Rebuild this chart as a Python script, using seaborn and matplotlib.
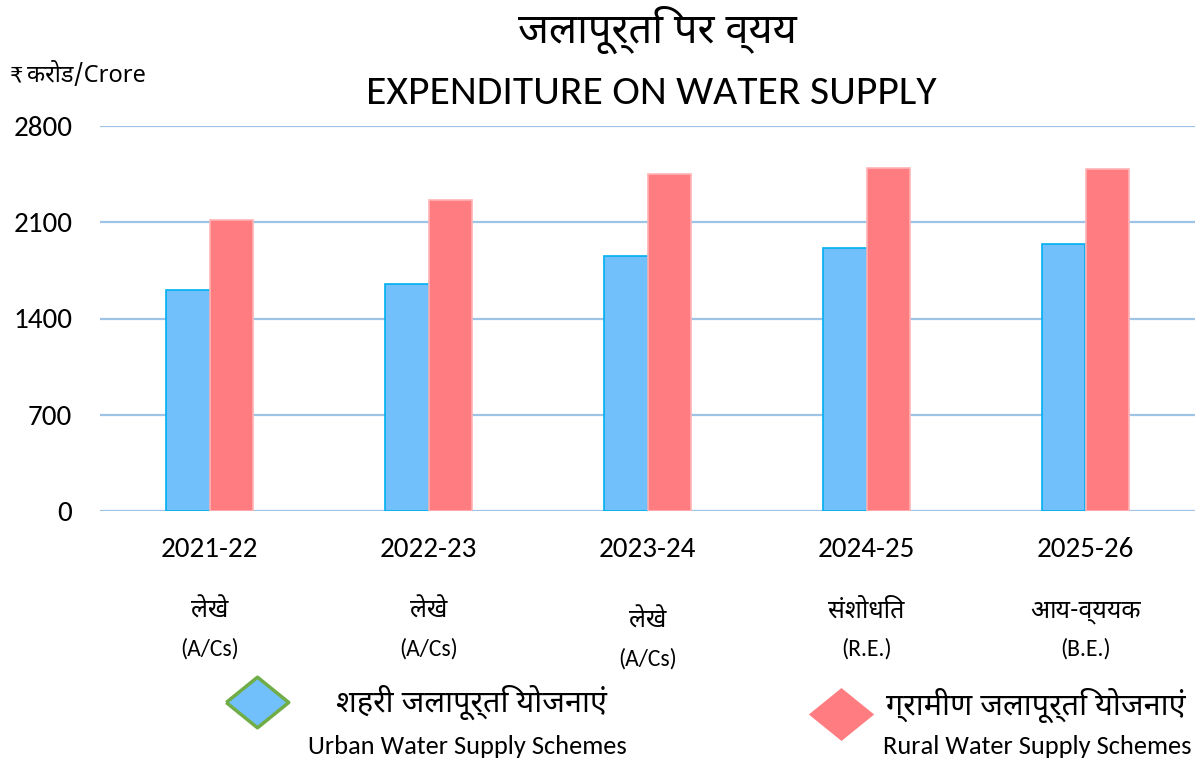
import matplotlib
matplotlib.use("Agg")
import matplotlib.pyplot as plt
from matplotlib import font_manager
import pandas as pd
import seaborn as sns

# data (Rs crore)
years = ["2021-22", "2022-23", "2023-24", "2024-25", "2025-26"]
stage_hi = ["लेखे", "लेखे", "लेखे", "संशोधित", "आय-व्ययक"]
stage_en = ["(A/Cs)", "(A/Cs)", "(A/Cs)", "(R.E.)", "(B.E.)"]
urban = [1607, 1649, 1857, 1915, 1940]
rural = [2119, 2264, 2453, 2495, 2485]
series_names = ["Urban", "Rural"]
yticks = [0, 700, 1400, 2100, 2800]

BLUE = "#71C0FC"
BLUE_EDGE = "#00B0F0"
RED = "#FF7C80"
RED_EDGE = "#FFB3B5"
GRID = "#9DC3E6"

installed = {f.name for f in font_manager.fontManager.ttflist}


def pick(names, default):
    for nm in names:
        if nm in installed:
            return nm
    return default


sns.set_theme(style="white")
latin = pick(["Carlito", "Lato"], "DejaVu Sans")
deva = pick(["Noto Sans Devanagari", "Hind", "Mukta", "Poppins", "Amiko",
             "Annapurna SIL", "FreeSans"], "DejaVu Sans")
plt.rcParams["font.family"] = [latin, deva, "DejaVu Sans"]
plt.rcParams["text.color"] = "black"
plt.rcParams["xtick.color"] = "black"
plt.rcParams["ytick.color"] = "black"
hi_fams = [deva, latin, "DejaVu Sans"]

df = pd.DataFrame({
    "year": years * 2,
    "value": urban + rural,
    "series": [series_names[0]] * len(years) + [series_names[1]] * len(years),
})

fig = plt.figure(figsize=(12.04, 7.6), dpi=100)
ax = fig.add_axes([100 / 1204, 1 - 511 / 760, 1095 / 1204, 385 / 760])

sns.barplot(data=df, x="year", y="value", hue="series", order=years,
            hue_order=series_names, palette=[BLUE, RED], width=0.4,
            gap=0, saturation=1, ax=ax, legend=False)

n = len(years)
for i, bar in enumerate(ax.patches[:2 * n]):
    if i < n:
        bar.set_edgecolor(BLUE_EDGE)
    else:
        bar.set_edgecolor(RED_EDGE)
    bar.set_linewidth(1.2)
    bar.set_zorder(3)

ax.set_xlim(-0.5, n - 0.5)
ax.set_ylim(0, 2800)
ax.set_yticks(yticks)
ax.set_yticklabels([str(v) for v in yticks], fontsize=21)
ax.yaxis.grid(True, color=GRID, linewidth=1.6, zorder=0)
ax.set_axisbelow(True)
for s in ax.spines.values():
    s.set_visible(False)
ax.tick_params(axis="y", length=0, pad=20, labelcolor="black")
ax.tick_params(axis="x", length=0, pad=19, labelcolor="black")
ax.set_xticks(range(n))
ax.set_xticklabels(years, fontsize=21)
ax.set_xlabel("")
ax.set_ylabel("")

# second and third line of each category label
for i in range(n):
    dy = 10 if i == 2 else 0
    fig.text((100 + 219 * i + 109.5) / 1204, 1 - (611 + dy) / 760, stage_hi[i],
             ha="center", va="center", fontsize=18, family=hi_fams)
    fig.text((100 + 219 * i + 109.5) / 1204, 1 - (649 + dy) / 760, stage_en[i],
             ha="center", va="center", fontsize=17)

# titles and unit
fig.text(657 / 1204, 1 - 30 / 760, "जलापूर्ति पर व्यय", ha="center", va="center",
         fontsize=30, family=hi_fams)
fig.text(651 / 1204, 1 - 93 / 760, "EXPENDITURE ON WATER SUPPLY", ha="center",
         va="center", fontsize=30)
fig.text(10 / 1204, 1 - 75 / 760, "₹", ha="left", va="center",
         fontsize=15, family=["DejaVu Sans"])
fig.text(27 / 1204, 1 - 75 / 760, "करोड/Crore", ha="left", va="center",
         fontsize=17, family=hi_fams)

# legend drawn as markers + text
diamond = [(-1, 0), (0, 0.81), (1, 0), (0, -0.81), (-1, 0)]
fig.lines.append(plt.Line2D([257 / 1204], [1 - 702 / 760], marker=diamond, markersize=45,
                            markerfacecolor=BLUE, markeredgecolor="#70AD47",
                            markeredgewidth=2.5, linestyle="none",
                            transform=fig.transFigure, figure=fig))
fig.lines.append(plt.Line2D([841 / 1204], [1 - 714 / 760], marker=diamond, markersize=47,
                            markerfacecolor=RED, markeredgewidth=0,
                            linestyle="none", transform=fig.transFigure, figure=fig))
fig.text(471 / 1204, 1 - 702 / 760, "शहरी जलापूर्ति योजनाएं", ha="center",
         va="center", fontsize=22, family=hi_fams)
fig.text(467 / 1204, 1 - 746 / 760, "Urban Water Supply Schemes", ha="center",
         va="center", fontsize=19)
fig.text(1036 / 1204, 1 - 705 / 760, "ग्रामीण जलापूर्ति योजनाएं", ha="center",
         va="center", fontsize=22, family=hi_fams)
fig.text(1037 / 1204, 1 - 746 / 760, "Rural Water Supply Schemes", ha="center",
         va="center", fontsize=19)

fig.savefig("out.png", dpi=100)
